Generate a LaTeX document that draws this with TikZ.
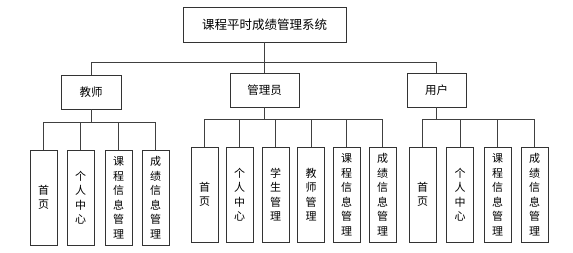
\documentclass[tikz,border=0pt]{standalone}
\usepackage{fontspec}
\setmainfont{Noto Sans CJK SC}
\begin{document}
\begin{tikzpicture}[x=1pt,y=-1pt,
  box/.style={draw=black!80,line width=0.9pt,fill=white,inner sep=0pt,align=center},
  leaf/.style={box,minimum width=27pt,minimum height=95pt,font=\fontsize{11}{14.5}\selectfont},
  mid/.style={box,minimum height=34pt,font=\fontsize{11.5}{14}\selectfont},
  link/.style={draw=black!75,line width=0.9pt}]
\useasboundingbox (0,0) rectangle (573,252);
\node[box,minimum width=163pt,minimum height=35pt,font=\fontsize{12.5}{15}\selectfont] (top) at (264.5,24.5) {课程平时成绩管理系统};
\node[mid,minimum width=60pt] (t) at (91,92) {教师};
\node[mid,minimum width=69pt] (a) at (264.5,90) {管理员};
\node[mid,minimum width=59pt] (u) at (436.5,90) {用户};
% teacher children
\node[leaf] (t1) at (43.5,197.5) {首\\页};
\node[leaf] (t2) at (80.5,197.5) {个\\人\\中\\心};
\node[leaf] (t3) at (118.5,197.5) {课\\程\\信\\息\\管\\理};
\node[leaf] (t4) at (155.5,197.5) {成\\绩\\信\\息\\管\\理};
% admin children
\node[leaf] (a1) at (204.5,194.5) {首\\页};
\node[leaf] (a2) at (239.5,194.5) {个\\人\\中\\心};
\node[leaf] (a3) at (275.5,194.5) {学\\生\\管\\理};
\node[leaf] (a4) at (311,194.5) {教\\师\\管\\理};
\node[leaf] (a5) at (346.5,194.5) {课\\程\\信\\息\\管\\理};
\node[leaf] (a6) at (382.5,194.5) {成\\绩\\信\\息\\管\\理};
% user children
\node[leaf] (u1) at (422.5,194.5) {首\\页};
\node[leaf] (u2) at (460,194.5) {个\\人\\中\\心};
\node[leaf] (u3) at (497.5,194.5) {课\\程\\信\\息\\管\\理};
\node[leaf] (u4) at (534.5,194.5) {成\\绩\\信\\息\\管\\理};
% connectors
\foreach \c in {t,a,u} \draw[link] (top.south) -- ++(0,20) -| (\c.north);
\foreach \c in {t1,t2,t3,t4} \draw[link] (t.south) -- ++(0,13) -| (\c.north);
\foreach \c in {a1,a2,a3,a4,a5,a6} \draw[link] (a.south) -- ++(0,12) -| (\c.north);
\foreach \c in {u1,u2,u3,u4} \draw[link] (u.south) -- ++(0,12) -| (\c.north);
\end{tikzpicture}
\end{document}
